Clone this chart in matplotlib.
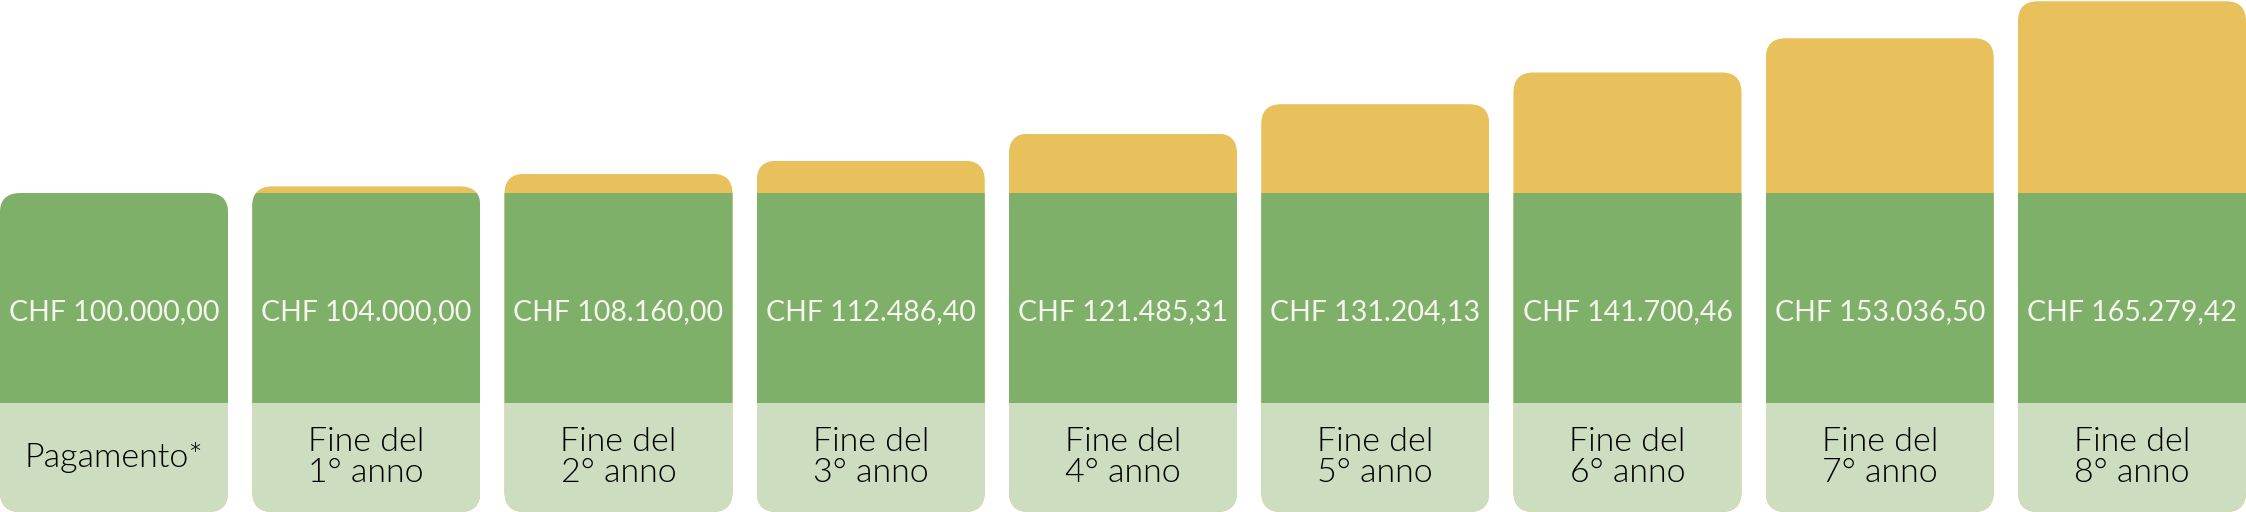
import matplotlib
matplotlib.use('Agg')
import matplotlib.pyplot as plt
from matplotlib.patches import FancyBboxPatch

# dati
categorie = ['Pagamento*', 'Fine del\n1° anno', 'Fine del\n2° anno', 'Fine del\n3° anno',
             'Fine del\n4° anno', 'Fine del\n5° anno', 'Fine del\n6° anno',
             'Fine del\n7° anno', 'Fine del\n8° anno']
valori = [100000.00, 104000.00, 108160.00, 112486.40, 121485.31,
          131204.13, 141700.46, 153036.50, 165279.42]

# stile
GIALLO = '#E8C15C'
VERDE = '#7EB06A'
VERDE_CHIARO = '#CDDDBF'
W, H, DPI = 2246, 512, 100
larg = 0.904
y_min, y_max = -3800, 165700
fascia_verde = (32300, 101800)   # fascia verde con l'importo
raggio_px = 20

plt.rcParams['font.family'] = ['Lato', 'DejaVu Sans']

def formato_chf(v):
    s = f'{v:,.2f}'.replace(',', 'X').replace('.', ',').replace('X', '.')
    return 'CHF ' + s

fig = plt.figure(figsize=(W / DPI, H / DPI), dpi=DPI)
ax = fig.add_axes([0, 0, 1, 1])
ax.set_xlim(-larg / 2, len(valori) - 1 + larg / 2)
ax.set_ylim(y_min, y_max)
ax.axis('off')

# unita' per pixel, per avere angoli tondi uguali in x e y
ux = (len(valori) - 1 + larg) / W
uy = (y_max - y_min) / H
r = raggio_px * ux

x = list(range(len(valori)))
n = len(x)
b1 = ax.bar(x, [v - y_min for v in valori], bottom=y_min, width=larg, color=GIALLO, linewidth=0)
b2 = ax.bar(x, [fascia_verde[1] - fascia_verde[0]] * n, bottom=fascia_verde[0], width=larg,
            color=VERDE, linewidth=0)
b3 = ax.bar(x, [fascia_verde[0] - y_min] * n, bottom=y_min, width=larg, color=VERDE_CHIARO, linewidth=0)

for i, v in enumerate(valori):
    top = max(v, fascia_verde[1])
    clip = FancyBboxPatch((i - larg / 2, y_min), larg, top - y_min,
                          boxstyle=f'round,pad=0,rounding_size={r}',
                          mutation_aspect=uy / ux, transform=ax.transData,
                          facecolor='none', edgecolor='none')
    ax.add_patch(clip)
    for b in (b1, b2, b3):
        b[i].set_clip_path(clip)
    ax.text(i, 62500, formato_chf(v), ha='center', va='center',
            color='#F5F5EE', fontsize=20.5)
    ax.text(i, (fascia_verde[0] + y_min) / 2, categorie[i], ha='center', va='center',
            color='#000000', fontsize=24.5, linespacing=1.02, fontweight=300)

fig.savefig('out.png', dpi=DPI)
